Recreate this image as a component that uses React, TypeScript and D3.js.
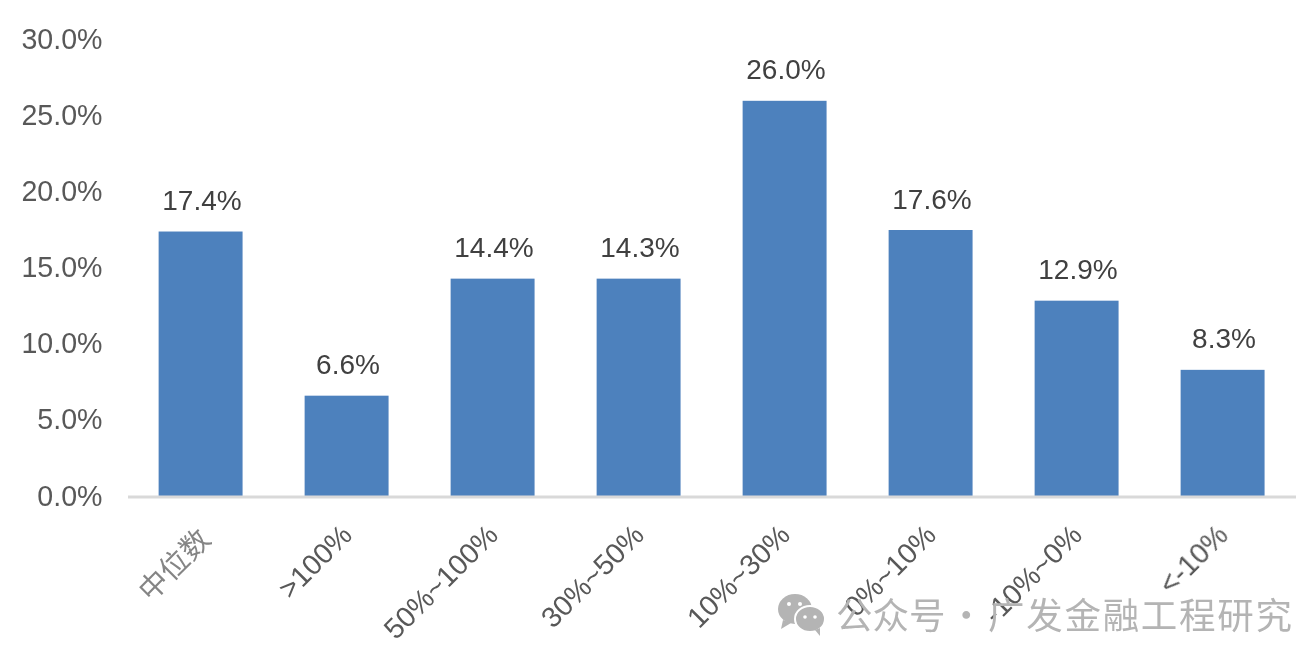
import React from "react";
import * as d3 from "d3";

const categories = ["中位数", ">100%", "50%~100%", "30%~50%", "10%~30%", "0%~10%", "-10%~0%", "<-10%"];
const values = [17.4, 6.6, 14.4, 14.3, 26.0, 17.6, 12.9, 8.3];
const barValues = [17.4, 6.6, 14.3, 14.3, 26.0, 17.5, 12.85, 8.3];
const yTicks = [0, 5, 10, 15, 20, 25, 30];
const watermarkParts = ["公众号", "·", "广发金融工程研究"];

const W = 1311, H = 651;
const FONT = "'Liberation Sans', Arial, sans-serif";
const CJK = "'Noto Sans CJK SC', sans-serif";

function isCjk(c: string) {
  return /[\u4e00-\u9fff]/.test(c);
}

export default function App() {
  const x = d3.scaleBand<string>().domain(categories).range([128, 1296]).paddingInner(0.425).paddingOuter(0.2125);
  const y = d3.scaleLinear().domain([0, 30]).range([496, 40]);
  const fmt = d3.format(".1f");
  return (
    <svg width={W} height={H} viewBox={`0 0 ${W} ${H}`} style={{ position: "absolute", left: 0, top: 0, background: "#fff" }}>
      <defs>
        <filter id="soft" x="-5%" y="-5%" width="110%" height="110%">
          <feGaussianBlur stdDeviation="0.5" />
        </filter>
      </defs>
      <g filter="url(#soft)">
        {categories.map((c, i) => (
          <rect key={c} x={x(c)! - 0.4} y={y(barValues[i])} width={x.bandwidth()} height={y(0) - y(barValues[i])} fill="#4e81bd" />
        ))}
        <line x1={128} x2={1296} y1={497} y2={497} stroke="#d9d9d9" strokeWidth={3} />
        {yTicks.map((t) => (
          <text key={t} x={102.5} y={y(t) - 1 + (t === 0 ? 1 : 0)} dy="0.36em" textAnchor="end" fontFamily={FONT} fontSize={28.6} fill="#595959">
            {fmt(t)}%
          </text>
        ))}
        {categories.map((c, i) => (
          <text key={c} x={x(c)! + x.bandwidth() / 2 + 1} y={y(barValues[i]) - 21.5} textAnchor="middle" fontFamily={FONT} fontSize={28} fill="#404040">
            {fmt(values[i])}%
          </text>
        ))}
        {categories.map((c) => {
          const cx = x(c)! + x.bandwidth() / 2;
          return (
            <text key={c} transform={`translate(${cx - 8},${522}) rotate(-45)`} textAnchor="end" dominantBaseline="hanging"
              fontFamily={isCjk(c) ? CJK : FONT} fontSize={isCjk(c) ? 29 : 28.6} fill={isCjk(c) ? "#858585" : "#595959"}>
              {c}
            </text>
          );
        })}
        <g fill="#b4b4b4">
          <ellipse cx={795} cy={609} rx={17} ry={15} />
          <path d="M783 620 L781 629 L791 623 Z" />
          <ellipse cx={810} cy={619} rx={15} ry={13} stroke="#fff" strokeWidth={2} />
          <path d="M815 630 L820 636 L820 628 Z" />
          <circle cx={789} cy={604} r={2} fill="#fff" />
          <circle cx={800} cy={604} r={2} fill="#fff" />
          <circle cx={805} cy={617} r={1.8} fill="#fff" />
          <circle cx={815} cy={617} r={1.8} fill="#fff" />
        </g>
        <text y={629} fontFamily={CJK} fontSize={36.5} fill="#b4b4b4">
          <tspan x={836}>{watermarkParts[0]}</tspan>
          <tspan x={948}>{watermarkParts[1]}</tspan>
          <tspan x={988} textLength={304} lengthAdjust="spacing">{watermarkParts[2]}</tspan>
        </text>
      </g>
    </svg>
  );
}
